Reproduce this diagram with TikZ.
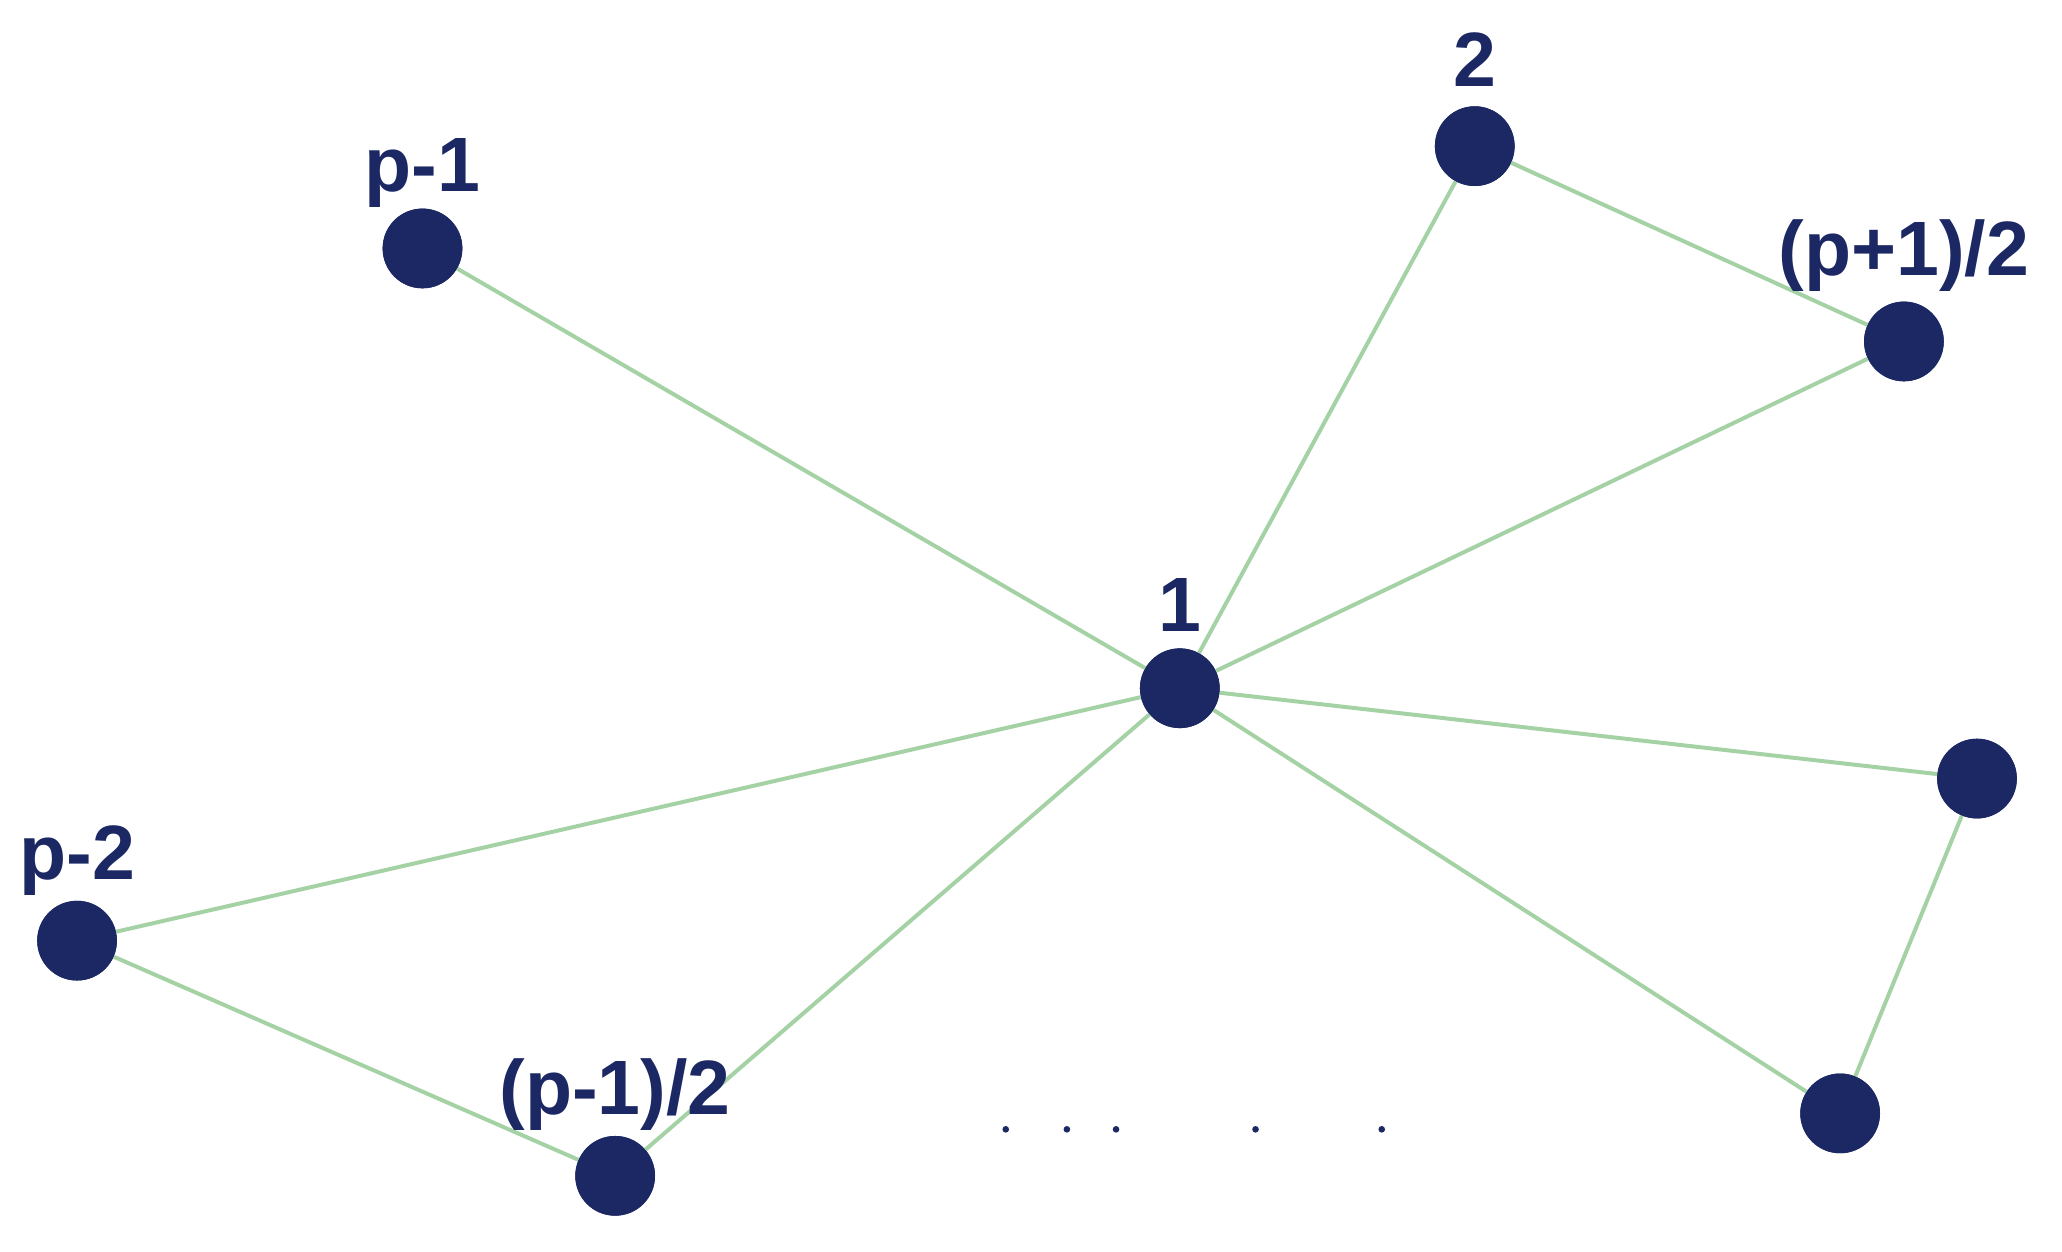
\documentclass[tikz,border=0pt]{standalone}
\usepackage{fontspec}
\setmainfont{Liberation Sans}
\definecolor{navy}{RGB}{28,40,100}
\definecolor{edgegreen}{RGB}{165,210,165}
\begin{document}
\begin{tikzpicture}[x=1pt,y=-1pt,
  vtx/.style={circle,fill=navy,minimum size=60pt,inner sep=0pt},
  lab/.style={text=navy,font=\bfseries\fontsize{58}{66}\selectfont,inner sep=0pt},
  edge/.style={draw=edgegreen,line width=3pt}]
\useasboundingbox (0,0) rectangle (1552,942);
\node[vtx] (c) at (888,518) {};
\node[vtx] (n2) at (1110,110) {};
\node[vtx] (pm1) at (318,187) {};
\node[vtx] (pp) at (1433,257) {};
\node[vtx] (r) at (1488,586) {};
\node[vtx] (br) at (1385,838) {};
\node[vtx] (pm2) at (58,708) {};
\node[vtx] (pm) at (463,885) {};
\begin{scope}[on background layer/.style={}]
\end{scope}
\foreach \t in {pm1,n2,pp,r,br,pm,pm2} {\draw[edge] (c) -- (\t);}
\draw[edge] (n2) -- (pp);
\draw[edge] (r) -- (br);
\draw[edge] (pm2) -- (pm);
\foreach \t in {c,n2,pm1,pp,r,br,pm2,pm} {\fill[navy] (\t) circle (30);}
\node[lab] (l1) at (888,455) {1};
\node[lab] (l2) at (1110,45) {2};
\node[lab] (lpm1) at (318,130) {p-1};
\node[lab] (lpp) at (1433,192) {(p+1)/2};
\node[lab] (lpm2) at (58,648) {p-2};
\node[lab] (lpm) at (463,824) {(p-1)/2};
\foreach \x in {757,803,840,945,1040} {\fill[navy] (\x,850) circle (2.5);}
\end{tikzpicture}
\end{document}
